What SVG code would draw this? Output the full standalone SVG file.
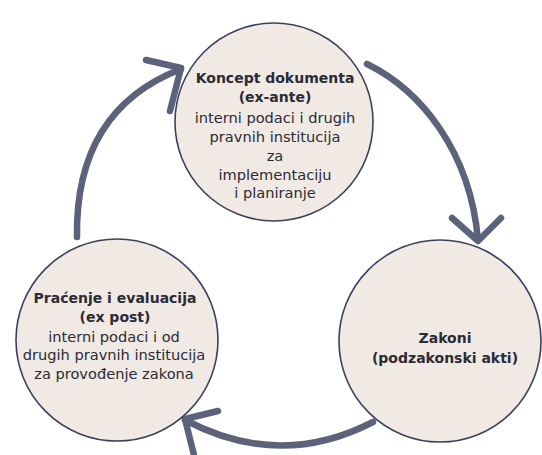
<svg xmlns="http://www.w3.org/2000/svg" width="542" height="455" viewBox="0 0 542 455">
<style>
.node circle{fill:#f1e9e4;stroke:#3b405c;stroke-width:1.6}
.arrow{fill:none;stroke:#5b6279;stroke-width:6.5;stroke-linecap:round;stroke-linejoin:round}
text{font-family:"DejaVu Sans","Liberation Sans",sans-serif;fill:#2b2b36;text-anchor:middle}
.b{font-weight:bold;font-size:14px}
.r{font-size:14.6px}
</style>
<rect width="542" height="455" fill="#ffffff"/>
<g id="connectors">
<path class="arrow" d="M367 64 C420 90 470 150 478 240"/>
<path class="arrow" d="M452 218 L478 241 L501 218"/>
<path class="arrow" d="M373 422 Q280 470 185 420"/>
<path class="arrow" d="M218 411 L185 419 L194 455"/>
<path class="arrow" d="M77 237 Q75 110 181 69"/>
<path class="arrow" d="M146 60 L181 68 L170 111"/>
</g>
<g id="node-koncept" class="node">
<circle cx="274" cy="122" r="99"/>
<text class="b" x="275" y="83">Koncept dokumenta</text>
<text class="b" x="275" y="102">(ex-ante)</text>
<text class="r" x="275" y="123">interni podaci i drugih</text>
<text class="r" x="275" y="142">pravnih institucija</text>
<text class="r" x="275" y="161">za</text>
<text class="r" x="275" y="180">implementaciju</text>
<text class="r" x="275" y="198">i planiranje</text>
</g>
<g id="node-zakoni" class="node">
<circle cx="440" cy="341" r="101"/>
<text class="b" x="445" y="343">Zakoni</text>
<text class="b" x="445" y="363">(podzakonski akti)</text>
</g>
<g id="node-pracenje" class="node">
<circle cx="117" cy="340" r="101"/>
<text class="b" x="115" y="303">Praćenje i evaluacija</text>
<text class="b" x="115" y="322">(ex post)</text>
<text class="r" x="114" y="342">interni podaci i od</text>
<text class="r" x="114" y="360">drugih pravnih institucija</text>
<text class="r" x="114" y="379">za provođenje zakona</text>
</g>
</svg>
